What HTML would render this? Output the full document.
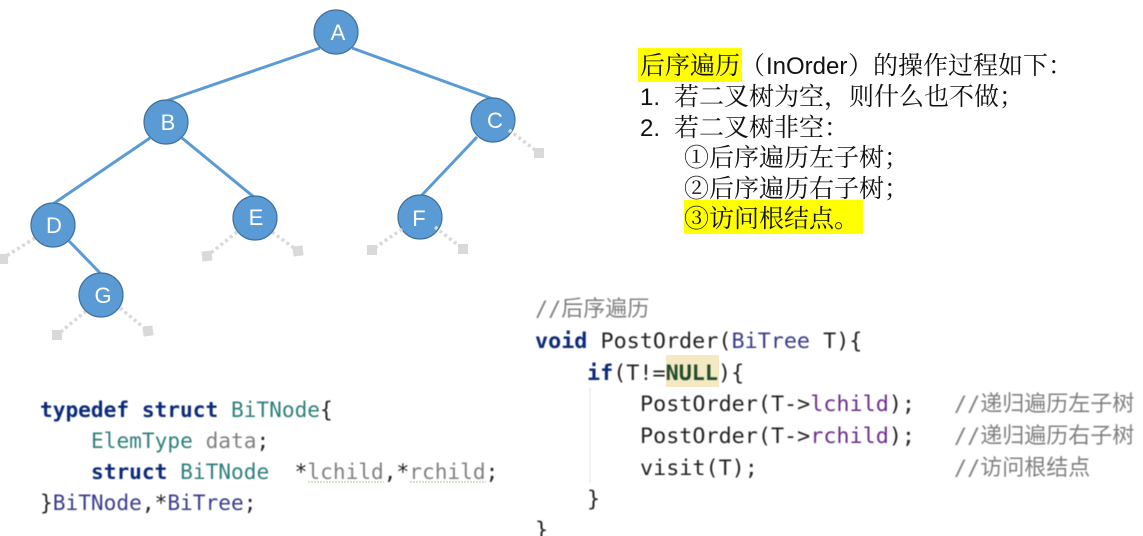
<!DOCTYPE html>
<html><head><meta charset="utf-8">
<style>
html,body{margin:0;padding:0;background:#fff;}
svg{display:block;text-spacing-trim:space-all;}
.c{font-family:"DejaVu Sans Mono","Noto Sans CJK SC",monospace;white-space:pre;filter:blur(.4px);}
.r{font-size:21.75px;}
.l{font-size:21.15px;}
.t{font-family:"Noto Serif CJK SC","Liberation Serif",serif;font-size:25px;fill:#111;text-spacing-trim:space-all;}
.la{font-family:"Liberation Sans",sans-serif;font-size:24px;fill:#111;}
.n{font-family:"Liberation Sans",sans-serif;font-size:22px;fill:#fff;text-anchor:middle;}
.k{font-weight:bold;fill:#0b2a7a;}
.cm{fill:#808080;}
.cj{font-family:"Noto Sans CJK SC",sans-serif;font-size:22px;fill:#808080;}
</style></head>
<body>
<svg width="1143" height="536" viewBox="0 0 1143 536" xmlns="http://www.w3.org/2000/svg">
<!-- dotted null links -->
<g stroke="#d9d9d9" stroke-width="3.5" stroke-dasharray="3 3" fill="none">
<line x1="35" y1="238" x2="3" y2="258"/>
<line x1="237" y1="232" x2="207" y2="256"/>
<line x1="272" y1="232" x2="298" y2="251"/>
<line x1="86" y1="311" x2="57" y2="335"/>
<line x1="120" y1="308" x2="148" y2="331"/>
</g>
<g fill="#d9d9d9">
<rect x="-2" y="254" width="10" height="10"/>
<rect x="202" y="251" width="10" height="10" transform="rotate(-5 207 256)"/>
<rect x="293" y="246" width="10" height="10" transform="rotate(-8 298 251)"/>
<rect x="367" y="245" width="10" height="10"/>
<rect x="458" y="244" width="10" height="10"/>
<rect x="534" y="148" width="10" height="10"/>
<rect x="52" y="330" width="10" height="10"/>
<rect x="143" y="326" width="10" height="10" transform="rotate(-8 148 331)"/>
</g>
<!-- tree edges -->
<g stroke="#5b9bd5" stroke-width="3" fill="none">
<line x1="320" y1="48" x2="166" y2="101"/>
<line x1="352" y1="48" x2="493" y2="99"/>
<line x1="150" y1="138" x2="53" y2="204"/>
<line x1="182" y1="138" x2="255" y2="198"/>
<line x1="477" y1="137" x2="421" y2="196"/>
<line x1="69" y1="241" x2="102" y2="275"/>
</g>
<g fill="#5b9bd5" stroke="#41719c" stroke-width="1.2">
<circle cx="336" cy="32" r="22"/>
<circle cx="166" cy="122" r="22"/>
<circle cx="493" cy="120" r="22"/>
<circle cx="53" cy="225" r="22"/>
<circle cx="255" cy="218" r="22"/>
<circle cx="420" cy="217" r="22"/>
<circle cx="101" cy="295" r="22"/>
</g>
<g stroke="#d9d9d9" stroke-width="3.5" stroke-dasharray="3 3" fill="none">
<line x1="402" y1="229" x2="372" y2="250"/>
<line x1="435" y1="227" x2="463" y2="249"/>
<line x1="509" y1="130" x2="539" y2="153"/>
</g>
<text class="n" x="338" y="40">A</text>
<text class="n" x="168" y="130">B</text>
<text class="n" x="495" y="128">C</text>
<text class="n" x="54" y="233">D</text>
<text class="n" x="256" y="225">E</text>
<text class="n" x="419" y="226">F</text>
<text class="n" x="103" y="303">G</text>

<!-- description -->
<rect x="638" y="48" width="104" height="34" fill="#ffff00"/>
<rect x="684" y="200" width="179" height="34" fill="#ffff00"/>
<text class="t" x="640" y="74">后序遍历（</text>
<text class="la" x="766" y="74">InOrder</text>
<text class="t" x="848" y="74">）的操作过程如下：</text>
<text class="la" x="640" y="105">1.</text>
<text class="t" x="674" y="105">若二叉树为空，则什么也不做；</text>
<text class="la" x="640" y="136">2.</text>
<text class="t" x="674" y="136">若二叉树非空：</text>
<text class="t" x="684" y="166">①后序遍历左子树；</text>
<text class="t" x="684" y="197">②后序遍历右子树；</text>
<text class="t" x="684" y="227">③访问根结点。</text>

<!-- right code -->
<rect x="666" y="355" width="53" height="32" fill="#f5e9c3"/>
<line x1="590" y1="388" x2="590" y2="483" stroke="#e4e4e4" stroke-width="1"/>
<g class="c r" fill="#222">
<text x="535" y="316" class="cm">//<tspan class="cj">后序遍历</tspan></text>
<text x="535" y="348"><tspan class="k">void</tspan> PostOrder(<tspan fill="#3b3b8c">BiTree</tspan> T){</text>
<text x="587" y="380"><tspan class="k">if</tspan>(T!=<tspan font-weight="bold" fill="#1f4d2e">NULL</tspan>){</text>
<text x="640" y="411">PostOrder(T-&gt;<tspan fill="#6a2d8f">lchild</tspan>);</text>
<text x="640" y="443">PostOrder(T-&gt;<tspan fill="#6a2d8f">rchild</tspan>);</text>
<text x="640" y="475">visit(T);</text>
<text x="954" y="411" class="cm">//<tspan class="cj">递归遍历左子树</tspan></text>
<text x="954" y="443" class="cm">//<tspan class="cj">递归遍历右子树</tspan></text>
<text x="954" y="475" class="cm">//<tspan class="cj">访问根结点</tspan></text>
<text x="587" y="506">}</text>
<text x="535" y="537">}</text>
</g>

<!-- left code -->
<g class="c l" fill="#222">
<text x="40" y="417"><tspan class="k">typedef struct</tspan> <tspan fill="#2f7f7a">BiTNode</tspan>{</text>
<text x="91" y="448"><tspan fill="#2f7f7a">ElemType</tspan> <tspan fill="#808080">data</tspan>;</text>
<text x="91" y="479"><tspan class="k">struct</tspan> <tspan fill="#2f7f7a">BiTNode</tspan>&#160;&#160;*<tspan fill="#808080">lchild</tspan>,*<tspan fill="#808080">rchild</tspan>;</text>
<text x="40" y="510">}<tspan fill="#3b3b8c">BiTNode</tspan>,*<tspan fill="#3b3b8c">BiTree</tspan>;</text>
</g>
<g stroke="#a8cf9a" stroke-width="1" fill="none" stroke-dasharray="2 1">
<line x1="308" y1="482" x2="384" y2="482"/>
<line x1="410" y1="482" x2="486" y2="482"/>
</g>
</svg>
</body></html>
